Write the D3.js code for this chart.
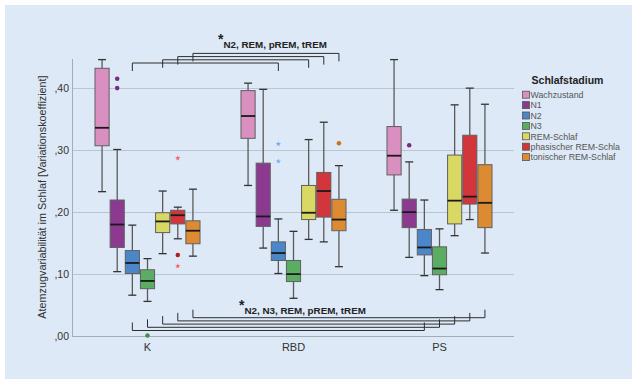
<!DOCTYPE html>
<html>
<head>
<meta charset="utf-8">
<script src="https://cdn.jsdelivr.net/npm/d3@7"></script>
<style>
  body { margin: 0; background: #fff; }
  svg { display: block; font-family: "Liberation Sans", Arial, sans-serif; }
</style>
</head>
<body>
<svg id="chart" width="633" height="379"></svg>
<script>
// groups on the x axis
const groups = ["K", "RBD", "PS"];
const stages = ["Wachzustand", "N1", "N2", "N3", "REM-Schlaf", "phasischer REM-Schla", "tonischer REM-Schlaf"];
const stageColors = ["#d98fc0", "#8c3a8f", "#4b86c9", "#5aad62", "#d9d862", "#d2363b", "#dc8b32"];
const outlierColors = ["#8c3a8f", "#7a2a80", "#6aa6e6", "#3f8f47", "#b0b040", "#b01c22", "#c8731c"];

// [whisker low, q1, median, q3, whisker high] for K, RBD, PS
const wach = [[0.232, 0.306, 0.335, 0.431, 0.445], [0.242, 0.318, 0.354, 0.395, 0.407], [0.202, 0.259, 0.290, 0.337, 0.445]];
const n1   = [[0.103, 0.142, 0.179, 0.2185, 0.300], [0.141, 0.176, 0.192, 0.278, 0.397], [0.126, 0.174, 0.199, 0.220, 0.280]];
const n2   = [[0.065, 0.100, 0.117, 0.137, 0.178], [0.100, 0.121, 0.133, 0.151, 0.188], [0.0965, 0.130, 0.142, 0.171, 0.2185]];
const n3   = [[0.055, 0.0755, 0.088, 0.106, 0.124], [0.060, 0.087, 0.099, 0.121, 0.168], [0.074, 0.098, 0.108, 0.143, 0.172]];
const rem  = [[0.132, 0.166, 0.184, 0.198, 0.233], [0.155, 0.187, 0.198, 0.242, 0.316], [0.161, 0.180, 0.2175, 0.291, 0.372]];
const prem = [[0.156, 0.180, 0.194, 0.202, 0.207], [0.151, 0.191, 0.233, 0.263, 0.344], [0.187, 0.212, 0.224, 0.323, 0.399]];
const trem = [[0.128, 0.148, 0.169, 0.185, 0.236], [0.111, 0.169, 0.187, 0.2197, 0.274], [0.133, 0.174, 0.214, 0.2755, 0.373]];
const boxStats = [wach, n1, n2, n3, rem, prem, trem];

// outliers: group, stage index, value, kind ("o" circle, "*" extreme)
const outliers = [
  ["K", 1, 0.414, "o"], ["K", 1, 0.399, "o"],
  ["K", 3, 0.000, "o"],
  ["K", 5, 0.286, "*"], ["K", 5, 0.130, "o"], ["K", 5, 0.112, "*"],
  ["RBD", 2, 0.309, "*"], ["RBD", 2, 0.281, "*"],
  ["RBD", 6, 0.310, "o"],
  ["PS", 1, 0.307, "o"]
];

const yTicks = [0, 0.1, 0.2, 0.3, 0.4];
const tickLabels = [",00", ",10", ",20", ",30", ",40"];

// significance brackets
const topPairs = { from: "K", to: "RBD", stages: [2, 4, 5, 6], label: "N2, REM, pREM, tREM" };
const bottomPairs = { from: "K", to: "PS", stages: [2, 3, 4, 5, 6], label: "N2, N3, REM, pREM, tREM" };

const svg = d3.select("#chart");

svg.append("rect")
  .attr("x", 5).attr("y", 5)
  .attr("width", 627).attr("height", 374)
  .attr("fill", "#dde9f6");

const plotLeft = 72, plotRight = 514;
const x = d3.scaleBand().domain(groups).range([74.5, 512.5]);
const xs = d3.scaleBand().domain(d3.range(stages.length))
  .range([0, x.bandwidth()])
  .paddingInner(0)
  .paddingOuter(1.32);
const y = d3.scaleLinear().domain([0, 0.1]).range([335.5, 273.5]);

const cx = (g, s) => x(g) + xs(s) + xs.bandwidth() / 2;

// gridlines
svg.append("g")
  .selectAll("line")
  .data(yTicks.slice(1))
  .join("line")
  .attr("x1", plotLeft).attr("x2", plotRight)
  .attr("y1", d => Math.round(y(d)) + 0.5)
  .attr("y2", d => Math.round(y(d)) + 0.5)
  .attr("stroke", "#b9c5d1")
  .attr("stroke-width", 1);

// axes lines
svg.append("line")
  .attr("x1", plotLeft + 0.5).attr("x2", plotLeft + 0.5)
  .attr("y1", y(0.446)).attr("y2", Math.round(y(0)) + 0.5)
  .attr("stroke", "#a3adb8");
svg.append("line")
  .attr("x1", plotLeft).attr("x2", plotRight)
  .attr("y1", Math.round(y(0)) + 0.5).attr("y2", Math.round(y(0)) + 0.5)
  .attr("stroke", "#a3adb8");

// y tick labels
svg.append("g")
  .selectAll("text")
  .data(yTicks)
  .join("text")
  .attr("x", 69)
  .attr("y", d => y(d) + 4)
  .attr("text-anchor", "end")
  .attr("font-size", 10.5)
  .attr("fill", "#333")
  .text((d, i) => tickLabels[i]);

// x labels
svg.append("g")
  .selectAll("text")
  .data(groups)
  .join("text")
  .attr("x", d => x(d) + x.bandwidth() / 2)
  .attr("y", 350.5)
  .attr("text-anchor", "middle")
  .attr("font-size", 11)
  .attr("fill", "#333")
  .text(d => d);

// y title
svg.append("text")
  .attr("transform", "translate(46,197) rotate(-90)")
  .attr("text-anchor", "middle")
  .attr("font-size", 10.8)
  .attr("fill", "#333")
  .text("Atemzugvariabilität im Schlaf [Variationskoeffizient]");

// boxes
const bw = xs.bandwidth();
const boxRows = [];
boxStats.forEach((perGroup, s) => {
  perGroup.forEach((st, gi) => boxRows.push({ g: groups[gi], s, st }));
});

const boxG = svg.append("g")
  .selectAll("g")
  .data(boxRows)
  .join("g");

boxG.each(function (d) {
  const g = d3.select(this);
  const c = cx(d.g, d.s);
  const [lo, q1, med, q3, hi] = d.st;
  // whiskers
  g.append("line")
    .attr("x1", c).attr("x2", c)
    .attr("y1", y(hi)).attr("y2", y(q3))
    .attr("stroke", "#5a5a5a").attr("stroke-width", 1.3);
  g.append("line")
    .attr("x1", c).attr("x2", c)
    .attr("y1", y(q1)).attr("y2", y(lo))
    .attr("stroke", "#5a5a5a").attr("stroke-width", 1.3);
  g.append("line")
    .attr("x1", c - 4).attr("x2", c + 4)
    .attr("y1", y(hi)).attr("y2", y(hi))
    .attr("stroke", "#333").attr("stroke-width", 1.3);
  g.append("line")
    .attr("x1", c - 4).attr("x2", c + 4)
    .attr("y1", y(lo)).attr("y2", y(lo))
    .attr("stroke", "#333").attr("stroke-width", 1.3);
  g.append("rect")
    .attr("x", c - bw / 2 + 0.5)
    .attr("width", bw - 1)
    .attr("y", y(q3))
    .attr("height", y(q1) - y(q3))
    .attr("fill", stageColors[d.s])
    .attr("stroke", "#606060")
    .attr("stroke-width", 1);
  g.append("line")
    .attr("x1", c - bw / 2 + 0.5).attr("x2", c + bw / 2 - 0.5)
    .attr("y1", y(med)).attr("y2", y(med))
    .attr("stroke", "#1a1a1a").attr("stroke-width", 1.8);
});

// outliers
const star = d3.symbol().type(d3.symbolStar).size(9);
svg.append("g")
  .selectAll("path")
  .data(outliers)
  .join("path")
  .attr("transform", d => `translate(${cx(d[0], d[1])},${y(d[2])})`)
  .attr("d", d => d[3] === "o" ? d3.symbol().type(d3.symbolCircle).size(16)() : star())
  .attr("fill", d => d[3] === "o" ? outlierColors[d[1]] : d3.color(stageColors[d[1]]).brighter(0.5))
  .attr("opacity", d => d[3] === "o" ? 1 : 0.85);

// brackets: each next bracket sits 3.2px higher, legs point away from the line
function drawBrackets(spec, baseY, dir) {
  const bg = svg.append("g")
    .attr("fill", "none")
    .attr("stroke", "#2d2d2d")
    .attr("stroke-width", 1);
  spec.stages.forEach((s, i) => {
    const x1 = cx(spec.from, s), x2 = cx(spec.to, s);
    const hy = baseY - 3.2 * i;
    const ly = hy + dir * 8;
    bg.append("path")
      .attr("d", `M${x1},${ly}V${hy}H${x2}V${ly}`);
  });
}
drawBrackets(topPairs, 63, 1);
drawBrackets(bottomPairs, 330.5, -1);

function sigLabel(spec, tx, ty) {
  const t = svg.append("text")
    .attr("x", tx).attr("y", ty)
    .attr("font-weight", "bold")
    .attr("fill", "#222");
  t.append("tspan").attr("font-size", 14).attr("dy", 0).text("*");
  t.append("tspan").attr("font-size", 9.8).attr("dy", 4).text(spec.label);
}
sigLabel(topPairs, 218, 44);
sigLabel(bottomPairs, 239, 309.5);

// legend
const legend = svg.append("g");
legend.append("text")
  .attr("x", 567.5).attr("y", 84)
  .attr("text-anchor", "middle")
  .attr("font-size", 10.5)
  .attr("font-weight", "bold")
  .attr("fill", "#222")
  .text("Schlafstadium");
const items = legend.selectAll("g.item")
  .data(stages)
  .join("g")
  .attr("class", "item")
  .attr("transform", (d, i) => `translate(522.5,${94.7 + i * 10.4})`);
items.append("rect")
  .attr("x", 0).attr("y", -3.5)
  .attr("width", 7).attr("height", 7)
  .attr("fill", (d, i) => stageColors[i])
  .attr("stroke", "#555")
  .attr("stroke-width", 0.8);
items.append("text")
  .attr("x", 8).attr("y", 3.3)
  .attr("font-size", 8.8)
  .attr("fill", "#555")
  .text(d => d);
</script>
</body>
</html>
